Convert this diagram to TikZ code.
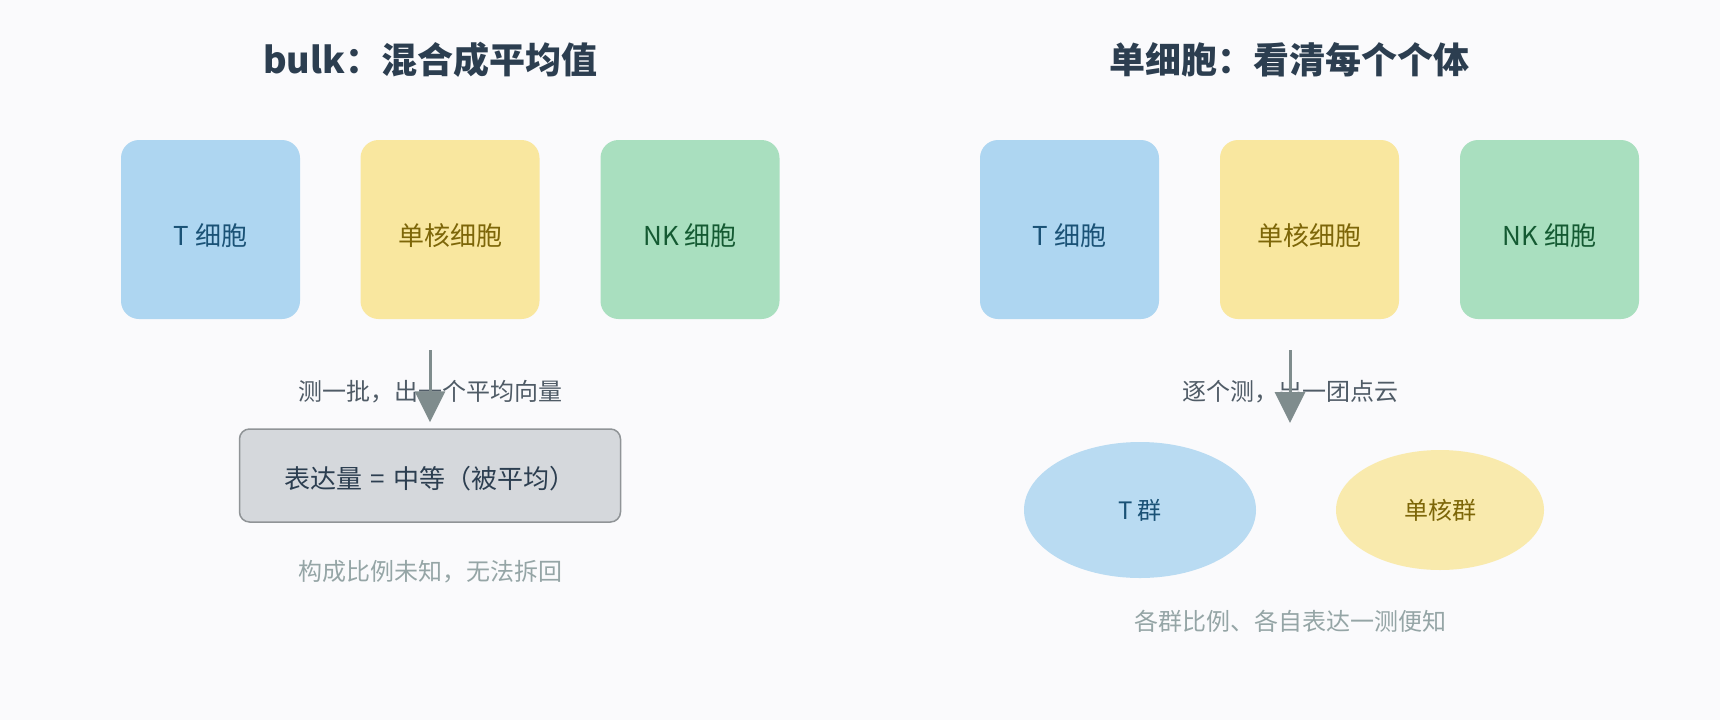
\documentclass[tikz,border=0pt]{standalone}
\usepackage{fontspec}
\setmainfont{Noto Sans CJK SC}
\usetikzlibrary{shapes.geometric,arrows.meta}
\definecolor{bg}{HTML}{FAFAFC}
\definecolor{titlec}{HTML}{2C3E50}
\definecolor{notec}{HTML}{4F5B66}
\definecolor{hintc}{HTML}{95A5A6}
\definecolor{arrowc}{HTML}{7F8C8D}
\definecolor{tfill}{HTML}{AED6F1}
\definecolor{ttext}{HTML}{1A5276}
\definecolor{mfill}{HTML}{F9E79F}
\definecolor{mtext}{HTML}{7D6608}
\definecolor{nfill}{HTML}{A9DFBF}
\definecolor{ntext}{HTML}{145A32}
\definecolor{boxfill}{HTML}{D5D8DC}
\definecolor{boxline}{HTML}{909497}
\definecolor{tblob}{HTML}{B9DBF2}
\definecolor{mblob}{HTML}{F9EAAD}

\begin{document}
\begin{tikzpicture}[x=1pt,y=-1pt,
  title/.style={font=\bfseries\fontsize{36}{40}\selectfont,text=titlec},
  cell/.style={rounded corners=18pt,minimum width=179pt,minimum height=179pt,text height=32pt,text depth=0pt,font=\fontsize{26}{30}\selectfont},
  note/.style={font=\fontsize{24}{28}\selectfont,text=notec},
  hint/.style={font=\fontsize{24}{28}\selectfont,text=hintc},
  blob/.style={ellipse,inner sep=0pt,font=\fontsize{24}{28}\selectfont},
  flow/.style={draw=arrowc,line width=3pt,shorten >=6pt,-{Triangle[width=30pt,length=31pt]}}]
\fill[bg] (0,0) rectangle (1720,720);
\begin{scope}
\node[title] (0) at (430,60) {bulk：混合成平均值};
\node[cell,fill=tfill,text=ttext] (1) at (210.5,229.5) {T 细胞};
\node[cell,fill=mfill,text=mtext] (2) at (450,229.5) {单核细胞};
\node[cell,fill=nfill,text=ntext] (3) at (690,229.5) {NK 细胞};
\node[draw=boxline,fill=boxfill,line width=1.5pt,rounded corners=10pt,minimum width=381pt,minimum height=93pt,
  text height=26.4pt,text depth=0pt,font=\fontsize{26}{30}\selectfont,text=titlec] (4) at (430,475.5) {表达量\,\,=\,\,中等（被平均）};
\node[note] (5) at (430,392) {测一批，出一个平均向量};
\coordinate (a) at (430,350);
\path[flow] (a) -- (4.north);
\node[hint] (6) at (430,572) {构成比例未知，无法拆回};
\end{scope}
\begin{scope}[xshift=860pt]
\node[title] (0) at (429,60) {单细胞：看清每个个体};
\node[cell,fill=tfill,text=ttext] (1) at (209.5,229.5) {T 细胞};
\node[cell,fill=mfill,text=mtext] (2) at (449.5,229.5) {单核细胞};
\node[cell,fill=nfill,text=ntext] (3) at (689.5,229.5) {NK 细胞};
\node[blob,fill=tblob,text=ttext,minimum width=232pt,minimum height=136pt] (4) at (280,510) {T 群};
\node[blob,fill=mblob,text=mtext,minimum width=208pt,minimum height=120pt] (5) at (580,510) {单核群};
\node[note] (6) at (430,392) {逐个测，出一团点云};
\coordinate (a) at (430,350);
\coordinate (b) at (430,429);
\path[flow] (a) -- (b);
\node[hint] (7) at (430,621) {各群比例、各自表达一测便知};
\end{scope}
\end{tikzpicture}
\end{document}
